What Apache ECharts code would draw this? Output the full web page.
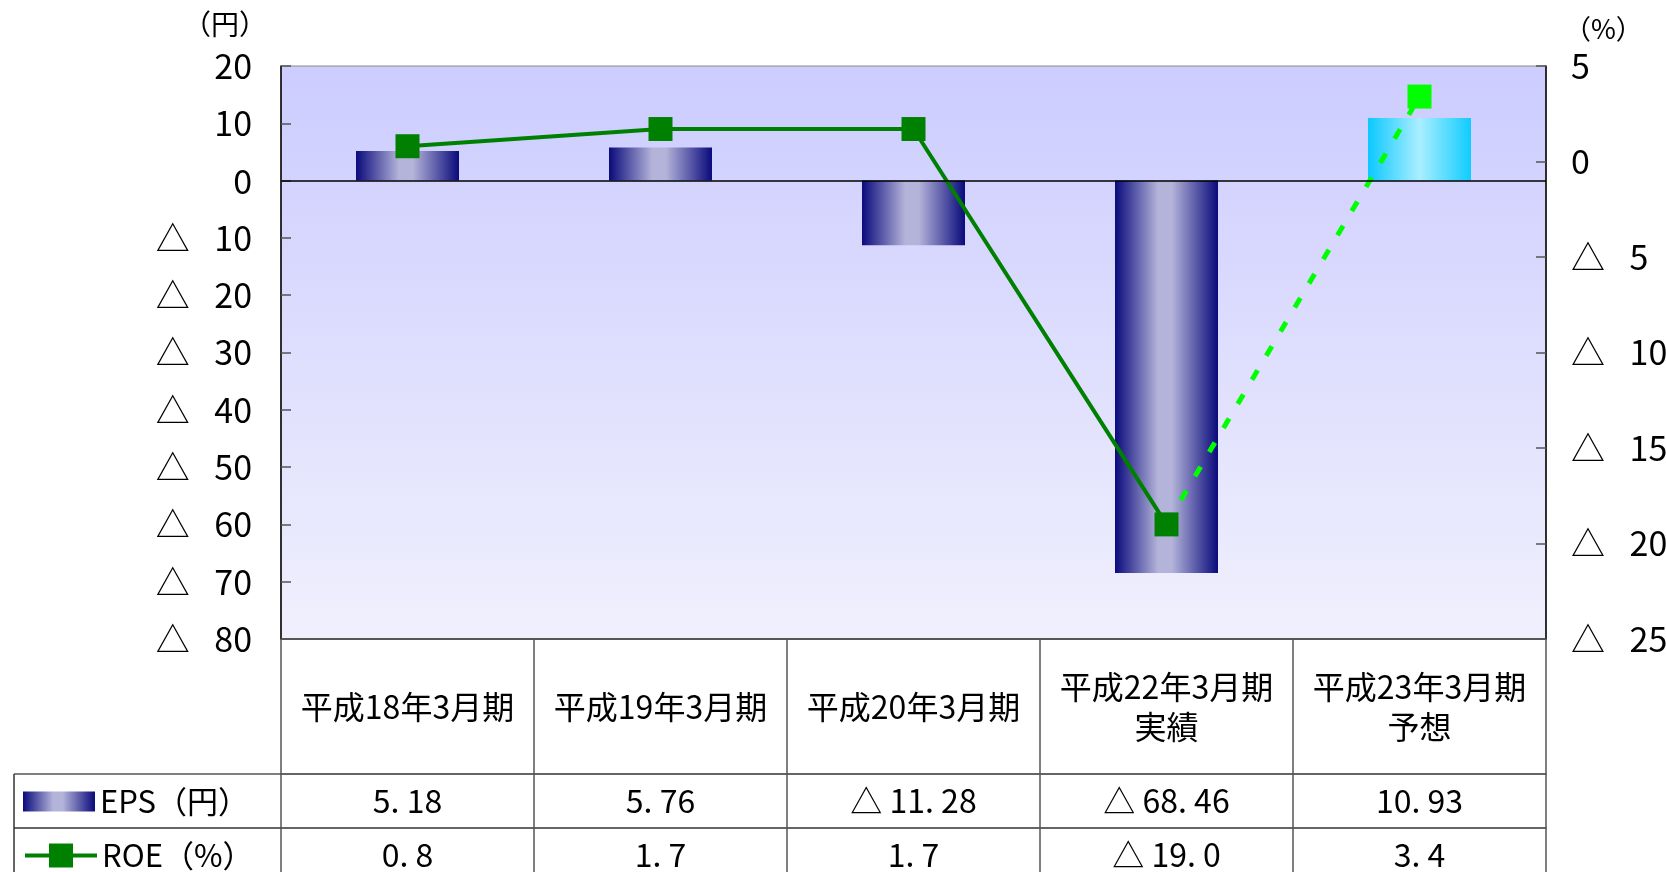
<!DOCTYPE html>
<html>
<head>
<meta charset="utf-8">
<script src="https://cdn.jsdelivr.net/npm/echarts@6/dist/echarts.min.js"></script>
<style>
  html, body { margin: 0; padding: 0; background: #fff; }
  #chart { width: 1666px; height: 872px; }
</style>
</head>
<body>
<div id="chart"></div>
<script>
const categories = ["平成18年3月期", "平成19年3月期", "平成20年3月期", "平成22年3月期\n実績", "平成23年3月期\n予想"];
const epsValues = [5.18, 5.76, -11.28, -68.46, 10.93];
const roeValues = [0.8, 1.7, 1.7, -19.0, 3.4];
const forecastIndex = 4;
const epsAxis = { min: -80, max: 20, interval: 10 };
const roeAxis = { min: -25, max: 5, interval: 5 };

const GRID = { left: 281, right: 120, top: 66, bottom: 233 };
const HEADER_H = 135;
const ROW_H = 54;
const TABLE_LEFT = 14;
const H = 872;
const gridBottomY = H - GRID.bottom;

const FONT = "'Noto Sans CJK JP', sans-serif";

const navyBar = new echarts.graphic.LinearGradient(0, 0, 1, 0, [
  { offset: 0, color: "#0a0a7c" },
  { offset: 0.42, color: "#b4b4da" },
  { offset: 0.55, color: "#b4b4da" },
  { offset: 1, color: "#0a0a7c" }
]);
const cyanBar = new echarts.graphic.LinearGradient(0, 0, 1, 0, [
  { offset: 0, color: "#0cc8ff" },
  { offset: 0.5, color: "#aaeeff" },
  { offset: 1, color: "#10ccff" }
]);

// 負の値は「△」で表す
function tri(v, digits) {
  const s = Math.abs(v).toFixed(digits).replace(".", ". ");
  return v < 0 ? "△ " + s : s;
}
function axisTri(v) {
  return v < 0 ? "△\u2002 " + (-v) : String(v);
}

const epsLabels = epsValues.map((v) => tri(v, 2));
const roeLabels = roeValues.map((v) => tri(v, 1));

const tableAxis = (data, offset, len, fontSize) => ({
  type: "category",
  data,
  position: "bottom",
  offset,
  axisLine: { show: true, onZero: false, lineStyle: { color: "#333", width: 1.5 } },
  axisTick: { show: true, inside: false, length: len, interval: 0, lineStyle: { color: "#555", width: 1.5 } },
  axisLabel: {
    interval: 0,
    margin: len / 2,
    verticalAlign: "middle",
    fontSize,
    fontFamily: FONT,
    color: "#000",
    lineHeight: 40
  }
});

const legendRow = (name, top, item) => ({
  orient: "vertical",
  left: 23,
  top,
  padding: 0,
  itemWidth: 72,
  itemHeight: 30,
  textStyle: { fontSize: 31, fontFamily: FONT, color: "#000" },
  data: [{ name, ...item }]
});

const chart = echarts.init(document.getElementById("chart"), null, { renderer: "canvas" });
chart.setOption({
  animation: false,
  backgroundColor: "#fff",
  grid: {
    ...GRID,
    outerBoundsMode: "none",
    containLabel: false,
    show: true,
    borderColor: "#888",
    borderWidth: 1,
    backgroundColor: new echarts.graphic.LinearGradient(0, 0, 0, 1, [
      { offset: 0, color: "#ccccff" },
      { offset: 1, color: "#f0f0fd" }
    ])
  },
  legend: [
    legendRow("EPS（円）", gridBottomY + HEADER_H + ROW_H / 2 - 15, { icon: "path://M0,0H72V20H0Z" }),
    legendRow("ROE（%）", gridBottomY + HEADER_H + ROW_H * 1.5 - 15, { lineStyle: { color: "#008000", width: 4 } })
  ],
  xAxis: [
    tableAxis(categories, 0, HEADER_H, 32),
    tableAxis(epsLabels, HEADER_H, ROW_H, 32),
    tableAxis(roeLabels, HEADER_H + ROW_H, ROW_H, 32)
  ],
  yAxis: [
    {
      type: "value",
      ...epsAxis,
      name: "（円）",
      nameLocation: "end",
      nameGap: 42,
      nameTextStyle: { fontSize: 28, fontFamily: FONT, color: "#000", align: "right", verticalAlign: "middle", padding: [0, 14, 0, 0] },
      axisLine: { show: true, lineStyle: { color: "#000", width: 1.5 } },
      axisTick: { show: true, inside: true, length: 10, lineStyle: { color: "#555", width: 1.5 } },
      splitLine: { show: false },
      axisLabel: { margin: 29, fontSize: 34, fontFamily: FONT, color: "#000", formatter: axisTri }
    },
    {
      type: "value",
      ...roeAxis,
      position: "right",
      name: "（%）",
      nameLocation: "end",
      nameGap: 37,
      nameTextStyle: { fontSize: 27, fontFamily: FONT, color: "#000", align: "left", verticalAlign: "middle", padding: [0, 0, 0, 18] },
      axisLine: { show: true, lineStyle: { color: "#000", width: 1.5 } },
      axisTick: { show: true, inside: true, length: 10, lineStyle: { color: "#555", width: 1.5 } },
      splitLine: { show: false },
      axisLabel: { margin: 25, fontSize: 34, fontFamily: FONT, color: "#000", formatter: axisTri }
    }
  ],
  series: [
    {
      name: "EPS（円）",
      type: "bar",
      barWidth: 103,
      itemStyle: { color: navyBar },
      data: epsValues.map((v, i) => (i === forecastIndex ? { value: v, itemStyle: { color: cyanBar } } : v)),
      markLine: {
        silent: true,
        symbol: "none",
        label: { show: false },
        lineStyle: { color: "#000", width: 1.5, type: "solid" },
        data: [{ yAxis: 0 }]
      }
    },
    {
      name: "ROE（%）",
      type: "line",
      yAxisIndex: 1,
      symbol: "rect",
      symbolSize: 24,
      itemStyle: { color: "#008000" },
      lineStyle: { color: "#008000", width: 4 },
      z: 4,
      data: roeValues.map((v, i) => (i < forecastIndex ? v : "-"))
    },
    {
      name: "ROE予想",
      type: "line",
      yAxisIndex: 1,
      symbol: "rect",
      symbolSize: 24,
      itemStyle: { color: "#00ff00" },
      lineStyle: { color: "#00ff00", width: 5, type: [11, 17] },
      z: 3,
      data: roeValues.map((v, i) =>
        i < forecastIndex - 1 ? "-" : i === forecastIndex - 1 ? { value: v, symbol: "none" } : v)
    }
  ],
  graphic: [
    {
      type: "group",
      silent: true,
      children: [
        { type: "line", shape: { x1: TABLE_LEFT, y1: gridBottomY + HEADER_H, x2: GRID.left, y2: gridBottomY + HEADER_H }, style: { stroke: "#555", lineWidth: 1.5 } },
        { type: "line", shape: { x1: TABLE_LEFT, y1: gridBottomY + HEADER_H + ROW_H, x2: GRID.left, y2: gridBottomY + HEADER_H + ROW_H }, style: { stroke: "#333", lineWidth: 1.5 } },
        { type: "line", shape: { x1: TABLE_LEFT, y1: gridBottomY + HEADER_H, x2: TABLE_LEFT, y2: H }, style: { stroke: "#333", lineWidth: 1.5 } }
      ]
    }
  ]
});
</script>
</body>
</html>
